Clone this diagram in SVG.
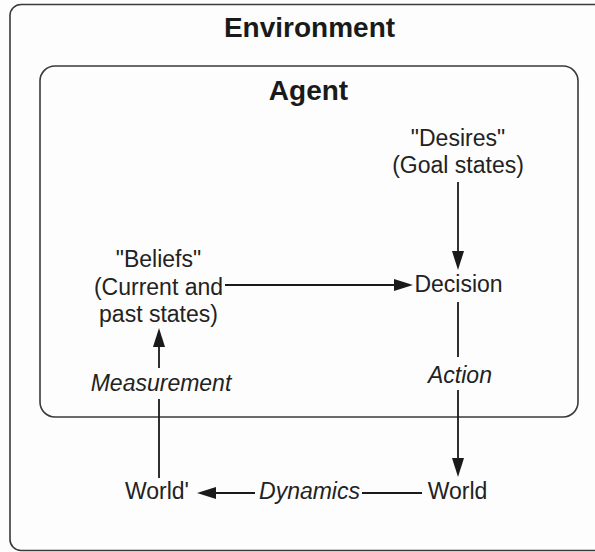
<svg xmlns="http://www.w3.org/2000/svg" width="595" height="552" viewBox="0 0 595 552">
  <style>
    .box { fill: none; stroke: #3a3a3a; stroke-width: 1.6; }
    .title { font-family: "Liberation Sans", Arial, sans-serif; font-weight: bold; font-size: 28px; fill: #1a1a1a; text-anchor: middle; }
    .lbl { font-family: "Liberation Sans", Arial, sans-serif; font-size: 23px; fill: #222222; text-anchor: middle; }
    .it { font-style: italic; }
    .conn { fill: none; stroke: #1a1a1a; stroke-width: 1.8; }
  </style>
  <defs>
    <marker id="arrow" markerUnits="userSpaceOnUse" markerWidth="19" markerHeight="12" refX="16" refY="6" orient="auto">
      <path d="M0,0 L19,6 L0,12 z" fill="#1a1a1a"/>
    </marker>
  </defs>
  <rect width="595" height="552" fill="#fdfdfd"/>

  <g id="environment">
    <rect class="box" x="10" y="4.5" width="620" height="546" rx="11"/>
    <text class="title" x="309.5" y="37">Environment</text>
  </g>

  <g id="agent">
    <rect class="box" x="40" y="66" width="538" height="351" rx="15"/>
    <text class="title" x="308.5" y="100">Agent</text>
  </g>

  <g id="desires">
    <text class="lbl" x="458" y="146">"Desires"</text>
    <text class="lbl" x="458" y="173">(Goal states)</text>
  </g>

  <g id="beliefs">
    <text class="lbl" x="158.5" y="267">"Beliefs"</text>
    <text class="lbl" x="158.5" y="295">(Current and</text>
    <text class="lbl" x="158.5" y="322">past states)</text>
  </g>

  <g id="decision">
    <text class="lbl" x="458.5" y="292">Decision</text>
  </g>

  <g id="world">
    <text class="lbl" x="457.5" y="499">World</text>
  </g>

  <g id="world-prime">
    <text class="lbl" x="157" y="499">World'</text>
  </g>

  <g id="connectors">
    <path class="conn" d="M458,182 V267" marker-end="url(#arrow)"/>
    <path class="conn" d="M225,285 H410" marker-end="url(#arrow)"/>
    <path class="conn" d="M458,302 V357 M458,390 V474" marker-end="url(#arrow)"/>
    <path class="conn" d="M422,493 H362 M255,493 H200" marker-end="url(#arrow)"/>
    <path class="conn" d="M159,478 V399 M159,368 V331" marker-end="url(#arrow)"/>
    <text class="lbl it" x="460" y="383">Action</text>
    <text class="lbl it" x="309.5" y="499">Dynamics</text>
    <text class="lbl it" x="161" y="391">Measurement</text>
  </g>
</svg>
